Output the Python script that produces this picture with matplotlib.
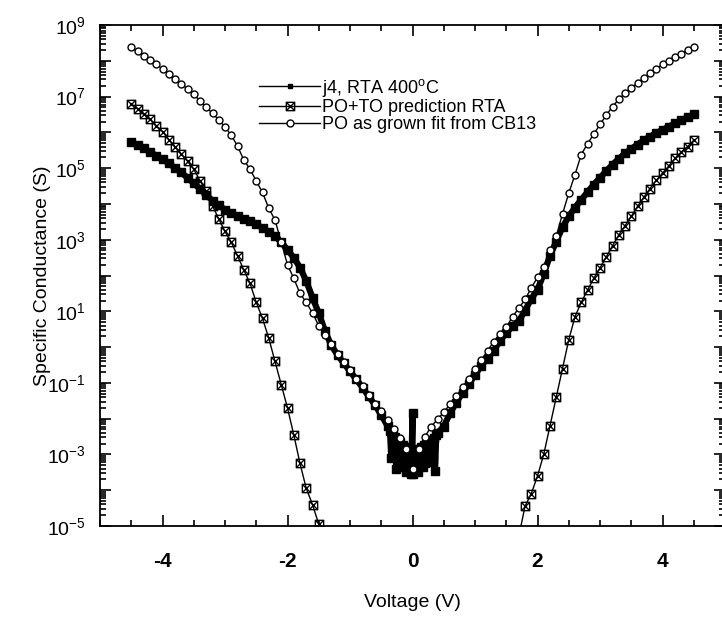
import numpy as np
import matplotlib
matplotlib.use('Agg')
import matplotlib.pyplot as plt
from matplotlib.path import Path
from matplotlib.lines import Line2D
from matplotlib.ticker import FixedLocator, MultipleLocator, FuncFormatter, LogLocator

plt.rcParams['font.family'] = 'Liberation Sans'
plt.rcParams['mathtext.fontset'] = 'custom'
plt.rcParams['mathtext.rm'] = 'Liberation Sans'
plt.rcParams['mathtext.it'] = 'Liberation Sans:italic'
plt.rcParams['mathtext.bf'] = 'Liberation Sans:bold'
plt.rcParams['axes.unicode_minus'] = False

nan = np.nan

# voltage grid of the model curves (V)
volt = np.round(np.arange(-4.5, 4.51, 0.1), 1)

# log10 of specific conductance
po_grown = [8.38, 8.26, 8.14, 8.03, 7.90, 7.77, 7.64, 7.50, 7.36, 7.21,
            7.06, 6.88, 6.70, 6.53, 6.35, 6.15, 5.92, 5.62, 5.23, 4.97,
            4.64, 4.32, 3.88, 3.55, 2.93, 2.30, 1.92, 1.50, 1.25, 0.95,
            0.60, 0.35, 0.08, -0.18, -0.42, -0.65, -0.88, -1.10, -1.35, -1.58,
            -1.80, -2.05, -2.30, -2.55, -2.85, -3.40, -2.85, -2.50, -2.22, -2.02,
            -1.82, -1.60, -1.38, -1.12, -0.88, -0.62, -0.36, -0.10, 0.15, 0.37,
            0.55, 0.85, 1.08, 1.33, 1.65, 1.95, 2.25, 2.70, 3.10, 3.72,
            4.30, 4.82, 5.38, 5.68, 5.95, 6.22, 6.48, 6.72, 6.92, 7.10,
            7.24, 7.38, 7.52, 7.65, 7.77, 7.90, 8.00, 8.10, 8.20, 8.30,
            8.38]

po_to = [6.80, 6.66, 6.51, 6.36, 6.19, 6.02, 5.80, 5.60, 5.40, 5.19,
         4.97, 4.65, 4.35, 3.95, 3.58, 3.23, 2.93, 2.55, 2.16, 1.78,
         1.25, 0.80, 0.25, -0.40, -1.05, -1.70, -2.45, -3.25, -3.95, -4.40,
         -4.95, -5.60, nan, nan, nan, nan, nan, nan, nan, nan,
         nan, nan, nan, nan, nan, nan, nan, nan, nan, nan,
         nan, nan, nan, nan, nan, nan, nan, nan, nan, nan,
         nan, nan, -5.30, -4.45, -4.10, -3.60, -3.00, -2.20, -1.40, -0.60,
         0.20, 0.85, 1.25, 1.59, 1.92, 2.21, 2.52, 2.83, 3.13, 3.39,
         3.65, 3.93, 4.18, 4.43, 4.66, 4.86, 5.06, 5.27, 5.45, 5.60,
         5.78]

# measured j4 sample (denser, noisy around 0 V)
j4_left = [5.72, 5.64, 5.55, 5.45, 5.35, 5.25, 5.13, 5.01, 4.88, 4.73,
           4.58, 4.42, 4.25, 4.09, 3.97, 3.83, 3.75, 3.66, 3.59, 3.52,
           3.43, 3.33, 3.22, 3.10, 2.93, 2.72, 2.50, 2.22, 1.85, 1.38,
           0.95, 0.45, 0.05, -0.22, -0.45, -0.68, -0.90, -1.13, -1.38, -1.62,
           -1.90, -2.20]
j4_mid_v = [-0.36, -0.34, -0.32, -0.30, -0.28, -0.26, -0.24, -0.22, -0.20, -0.18,
            -0.16, -0.14, -0.12, -0.10, -0.08, -0.06, -0.04, -0.02, 0.00, 0.00,
            0.02, 0.04, 0.06, 0.08, 0.10, 0.12, 0.14, 0.16, 0.18, 0.20,
            0.22, 0.24, 0.26, 0.28, 0.30, 0.32, 0.34, 0.36, 0.38, 0.40]
j4_mid = [-2.35, -3.10, -2.45, -2.95, -2.50, -3.40, -2.60, -3.20, -2.65, -3.35,
          -2.75, -3.30, -2.80, -3.50, -2.85, -3.45, -2.95, -3.55, -1.85, -3.55,
          -2.95, -3.45, -2.90, -3.50, -2.85, -3.30, -2.80, -3.35, -2.75, -3.25,
          -2.70, -3.20, -2.65, -3.10, -2.60, -3.15, -2.55, -3.45, -2.45, -2.40]
j4_right = [-2.22, -1.85, -1.55, -1.28, -1.03, -0.78, -0.52, -0.32, -0.10, 0.18,
            0.40, 0.58, 0.72, 1.02, 1.35, 1.60, 2.05, 2.55, 2.95, 3.35,
            3.65, 3.90, 4.12, 4.33, 4.54, 4.73, 4.92, 5.10, 5.26, 5.41,
            5.54, 5.66, 5.78, 5.88, 5.98, 6.07, 6.16, 6.25, 6.34, 6.42,
            6.50]

labels = [r'j4, RTA 400$^\mathrm{o}$C', 'PO+TO prediction RTA', 'PO as grown fit from CB13']

j4_v = list(volt[volt <= -0.4]) + j4_mid_v + list(volt[volt >= 0.5])
j4_g = 10 ** np.array(j4_left + j4_mid + j4_right)

# square with an x inside, like the Origin symbol
hourglass = Path([(-1, -1), (1, -1), (1, 1), (-1, 1), (-1, -1),
                  (-1, 1), (1, -1), (1, 1), (-1, -1)],
                 [Path.MOVETO, Path.LINETO, Path.LINETO, Path.LINETO, Path.CLOSEPOLY,
                  Path.MOVETO, Path.LINETO, Path.MOVETO, Path.LINETO])

fig = plt.figure(figsize=(7.22, 6.17), dpi=100)
ax = fig.add_axes([100/722, 91/617, 625/722, 501/617])

ax.plot(j4_v, j4_g, color='black', lw=4.5, marker='s', markersize=5.5, zorder=3)
ax.plot(volt, 10 ** np.array(po_to), color='black', lw=1, marker=hourglass,
        markersize=6, mfc='none', mec='black', mew=1, zorder=4)
ax.plot(volt, 10 ** np.array(po_grown), color='black', lw=1, marker='o',
        markersize=5, mfc='white', mec='black', mew=1, zorder=5)

ax.set_yscale('log')
ax.set_xlim(-5, 5)
ax.set_ylim(1e-5, 1e9)

ax.xaxis.set_major_locator(FixedLocator([-4, -2, 0, 2, 4]))
ax.xaxis.set_minor_locator(MultipleLocator(0.5))
ax.yaxis.set_major_locator(FixedLocator([10.0 ** k for k in range(-5, 10)]))
ax.yaxis.set_minor_locator(LogLocator(base=10, subs=np.arange(2, 10), numticks=100))
ax.yaxis.set_major_formatter(FuncFormatter(
    lambda v, p: r'$10^{%d}$' % round(np.log10(v)) if round(np.log10(v)) % 2 else ''))

ax.tick_params(which='both', direction='in', top=True, right=True, width=1.2)
ax.tick_params(which='major', length=8)
ax.tick_params(which='minor', length=4)
ax.tick_params(axis='x', labelsize=15, pad=19)
ax.tick_params(axis='y', labelsize=14, pad=10)
for t in ax.get_xticklabels():
    t.set_fontweight('bold')
for s in ax.spines.values():
    s.set_linewidth(1.3)

ax.set_xlabel('Voltage (V)', fontsize=14, labelpad=16)
ax.set_ylabel('Specific Conductance (S)', fontsize=14, labelpad=-3)

# legend handles: thin line with one symbol in the middle
handles = [
    Line2D([], [], color='black', lw=1, marker='s', markersize=3),
    Line2D([], [], color='black', lw=1, marker=hourglass, markersize=6,
           mfc='none', mec='black'),
    Line2D([], [], color='black', lw=1, marker='o', markersize=5,
           mfc='white', mec='black'),
]
ax.legend(handles, labels, loc='upper left', bbox_to_anchor=(0.24, 0.915),
          frameon=False, fontsize=13, handlelength=3.4, handletextpad=0.1,
          labelspacing=0.02, borderpad=0, numpoints=1)

plt.savefig('out.png', dpi=100)
